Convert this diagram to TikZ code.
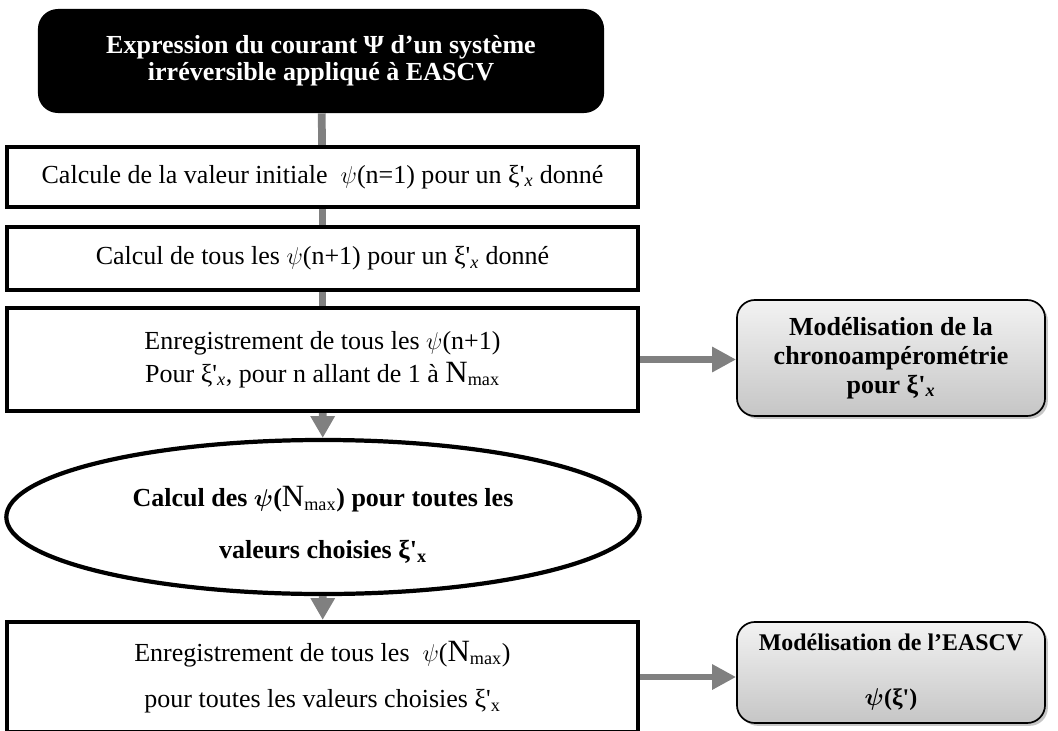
\documentclass[tikz,border=0pt]{standalone}
\usepackage{fontspec}
\setmainfont{Liberation Serif}
\usepackage{tikz}
\usetikzlibrary{arrows.meta,shapes.geometric,shadows}
\definecolor{linkgray}{RGB}{128,128,128}
\newcommand{\xix}{ξ\textquotesingle\textsubscript{\textit{x}}}
\newcommand{\xiu}{ξ\textquotesingle\textsubscript{x}}
\newcommand{\Nmax}{{\normalfont{\fontsize{22}{22}\selectfont N}\textsubscript{max}}}

\begin{document}
\begin{tikzpicture}[x=0.025cm, y=-0.025cm,
		txt/.style={font=\fontsize{18.5}{#1}\selectfont},
		boldtxt/.style={font=\fontsize{18.5}{#1}\selectfont\bfseries\boldmath},
		stepbox/.style={draw, line width=3pt, inner sep=0pt, minimum width=15.78cm, align=center},
		start/.style={fill=black, text=white, rounded corners=0.5cm, inner sep=0pt, minimum width=14.15cm, minimum height=2.6cm, align=center, boldtxt=19},
		loopbox/.style={draw, ellipse, line width=3pt, inner sep=0pt, minimum width=15.83cm, minimum height=3.85cm, align=center, boldtxt=37},
		result/.style={draw, line width=1.2pt, rounded corners=0.45cm, top color=gray!10, bottom color=gray!45, drop shadow={shadow xshift=2pt, shadow yshift=-2pt, opacity=0.45}, inner sep=0pt, minimum width=7.7cm, align=center},
		link/.style={draw=linkgray, line width=5.5pt},
		linkto/.style={link, -{Triangle[length=15.5pt, width=16.5pt]}},
		sidelink/.style={draw=linkgray, line width=4.3pt, -{Triangle[length=17pt, width=17pt]}}]
	\useasboundingbox (0,0) rectangle (1058,730);
	% main column
	\node[start] (expr) at (321,61) {Expression du courant Ψ d’un système\\irréversible appliqué à EASCV};
	\node[stepbox, minimum height=1.5cm, txt=22] (init) at (322.5,177) {Calcule de la valeur initiale~ $\psi$(n=1) pour un \xix{} donné};
	\node[stepbox, minimum height=1.575cm, txt=22] (tous) at (322.5,258.5) {Calcul de tous les $\psi$(n+1) pour un \xix{} donné};
	\node[stepbox, minimum height=2.575cm, txt=23.5] (enreg) at (322.5,359.5) {Enregistrement de tous les $\psi$(n+1)\\Pour \xix, pour n allant de 1 à \Nmax};
	\node[loopbox] (calc) at (323,517) {\rule{0pt}{26pt}Calcul des $\psi$(\Nmax) pour toutes les\\valeurs choisies \xiu};
	\node[stepbox, minimum height=2.75cm, txt=33] (enregN) at (322.5,677) {Enregistrement de tous les~ $\psi$(\Nmax)\\pour toutes les valeurs choisies \xiu};
	% results
	\node[result, minimum height=2.9cm, boldtxt=20.5] (chrono) at (891,358) {Modélisation de la\\chronoampérométrie\\pour \xix};
	\node[result, minimum height=2.525cm, font=\fontsize{17}{39}\selectfont\bfseries\boldmath] (eascv) at (891,672.5) {Modélisation de l’EASCV\\$\psi$(ξ\textquotesingle)};
	% links
	\draw[link] (expr) -- (init);
	\draw[link] (init) -- (tous);
	\draw[link] (tous) -- (enreg);
	\draw[linkto] (enreg) -- (calc);
	\draw[linkto] (calc) -- (enregN);
	\draw[sidelink] (enreg.east) -- (enreg.east -| chrono.west);
	\draw[sidelink] (enregN.east) -- (enregN.east -| eascv.west);
\end{tikzpicture}
\end{document}
